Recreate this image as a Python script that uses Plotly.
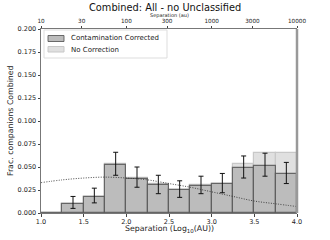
import plotly.graph_objects as go
import numpy as np

bin_left = [1.0, 1.25, 1.5, 1.75, 2.0, 2.25, 2.5, 2.75, 3.0, 3.25, 3.5, 3.75]
corrected = [0.0, 0.010, 0.017, 0.052, 0.037, 0.030, 0.025, 0.029, 0.032, 0.049, 0.051, 0.042]
uncorrected = [0.0, 0.010, 0.017, 0.053, 0.038, 0.031, 0.025, 0.030, 0.032, 0.053, 0.065, 0.065]
err_lo = [None, 0.005, 0.011, 0.041, 0.028, 0.021, 0.017, 0.021, 0.022, 0.038, 0.040, 0.032]
err_hi = [None, 0.018, 0.027, 0.066, 0.050, 0.041, 0.035, 0.040, 0.043, 0.062, 0.065, 0.055]
curve_x = [1.0, 1.25, 1.5, 1.75, 2.0, 2.25, 2.5, 2.75, 3.0, 3.25, 3.5, 3.75, 4.0]
curve_y = [0.033, 0.036, 0.038, 0.039, 0.038, 0.036, 0.032, 0.028, 0.023, 0.018, 0.013, 0.010, 0.007]
top_ticks = [10, 30, 100, 300, 1000, 3000, 10000]
y_ticks = [0.0, 0.025, 0.05, 0.075, 0.1, 0.125, 0.15, 0.175, 0.2]
legend_labels = ["Contamination Corrected", "No Correction"]

W, H = 330, 240
ML, MR, MT, MB = 41, 33, 29, 27
PW, PH = W - ML - MR, H - MT - MB

def px(x):  # pixel -> paper x
    return (x - ML) / PW

def py(y):  # pixel -> paper y
    return 1 - (y - MT) / PH

width = 0.25
centers = [b + width / 2 for b in bin_left]

corr_fill, corr_edge = "rgb(188,188,188)", "rgba(85,85,85,0.85)"
unc_fill, unc_edge = "rgb(224,224,224)", "rgb(200,200,200)"

fig = go.Figure()
fig.add_trace(go.Bar(
    x=centers, y=uncorrected, width=width, name=legend_labels[1], showlegend=False,
    marker=dict(color=unc_fill, line=dict(color=unc_edge, width=1.2)),
))
fig.add_trace(go.Bar(
    x=centers, y=corrected, width=width, name=legend_labels[0], showlegend=False,
    marker=dict(color=corr_fill, line=dict(color=corr_edge, width=1.2)),
))
ex, ey, elo, ehi = [], [], [], []
for c, lo, hi in zip(centers, err_lo, err_hi):
    if lo is None:
        continue
    mid = (lo + hi) / 2
    ex.append(c); ey.append(mid); elo.append(mid - lo); ehi.append(hi - mid)
fig.add_trace(go.Scatter(
    x=ex, y=ey, mode="markers", marker=dict(size=0.1, color="rgba(0,0,0,0)"),
    error_y=dict(type="data", symmetric=False, array=ehi, arrayminus=elo,
                 color="#111", thickness=1, width=2.5),
    showlegend=False, hoverinfo="skip",
))
fig.add_trace(go.Scatter(
    x=curve_x, y=curve_y, mode="lines",
    line=dict(color="#333", width=0.9, dash="1px,1.5px", shape="spline"),
    showlegend=False,
))
fig.add_trace(go.Scatter(x=[1, 4], y=[0, 0], xaxis="x2", mode="markers",
                         marker=dict(opacity=0), showlegend=False, hoverinfo="skip"))

shapes = [
    dict(type="line", xref="paper", yref="paper", x0=1, x1=1, y0=0, y1=1,
         line=dict(color="#999", width=2.5)),
    dict(type="rect", xref="paper", yref="paper", x0=px(44), x1=px(167), y0=py(58), y1=py(30),
         fillcolor="rgba(255,255,255,0.8)", line=dict(color="#ddd", width=1)),
    dict(type="rect", xref="paper", yref="paper", x0=px(48), x1=px(64), y0=py(41.5), y1=py(35.5),
         fillcolor=corr_fill, line=dict(color=corr_edge, width=1)),
    dict(type="rect", xref="paper", yref="paper", x0=px(48), x1=px(64), y0=py(52), y1=py(46.5),
         fillcolor=unc_fill, line=dict(color=unc_edge, width=1)),
]

annotations = [
    dict(text="Combined: All - no Unclassified", xref="paper", yref="paper",
         x=px(165), y=1, yshift=22, xanchor="center", yanchor="middle",
         showarrow=False, font=dict(size=9.8, color="#111")),
    dict(text="Separation (au)", xref="paper", yref="paper",
         x=px(169), y=1, yshift=14, xanchor="center", yanchor="middle",
         showarrow=False, font=dict(size=5)),
    dict(text="Separation (Log<sub>10</sub>(AU))", xref="paper", yref="paper",
         x=0.5, y=0, yshift=-16, xanchor="center", yanchor="middle",
         showarrow=False, font=dict(size=7.8)),
    dict(text="Frac. companions Combined", xref="paper", yref="paper",
         x=0, y=0.5, xshift=-31, xanchor="center", yanchor="middle", textangle=-90,
         showarrow=False, font=dict(size=7.8)),
    dict(text=legend_labels[0], xref="paper", yref="paper", x=px(69), y=py(38.5),
         xanchor="left", yanchor="middle", showarrow=False, font=dict(size=7)),
    dict(text=legend_labels[1], xref="paper", yref="paper", x=px(69), y=py(49.5),
         xanchor="left", yanchor="middle", showarrow=False, font=dict(size=7)),
]

fig.update_layout(
    width=W, height=H,
    margin=dict(l=ML, r=MR, t=MT, b=MB, autoexpand=False),
    paper_bgcolor="white", plot_bgcolor="white",
    barmode="overlay", bargap=0, showlegend=False,
    font=dict(family="DejaVu Sans", color="#222"),
    xaxis=dict(range=[1.0, 4.0], tickvals=[1.0, 1.5, 2.0, 2.5, 3.0, 3.5, 4.0],
               ticktext=["1.0", "1.5", "2.0", "2.5", "3.0", "3.5", "4.0"],
               tickfont=dict(size=6.5), ticks="outside", ticklen=2.5, tickcolor="#444",
               showline=True, linecolor="#777", linewidth=1, showgrid=False, zeroline=False,
               automargin=False),
    xaxis2=dict(overlaying="x", side="top", range=[1.0, 4.0],
                tickvals=[float(np.log10(t)) for t in top_ticks], ticktext=[str(t) for t in top_ticks],
                tickfont=dict(size=5.7), ticks="outside", ticklen=2.5, tickcolor="#444",
                showline=True, linecolor="#777", linewidth=1, showgrid=False, zeroline=False,
                automargin=False),
    yaxis=dict(range=[0, 0.2], tickvals=y_ticks, ticktext=[f"{v:.3f}" for v in y_ticks],
               tickfont=dict(size=6.5), ticks="outside", ticklen=2.5, tickcolor="#444",
               showline=True, linecolor="#777", linewidth=1, showgrid=False, zeroline=False,
               automargin=False),
    shapes=shapes,
    annotations=annotations,
)

fig.write_html("out.html", config={"displayModeBar": False},
               post_script="document.body.style.margin='0';document.body.style.overflow='hidden';")
